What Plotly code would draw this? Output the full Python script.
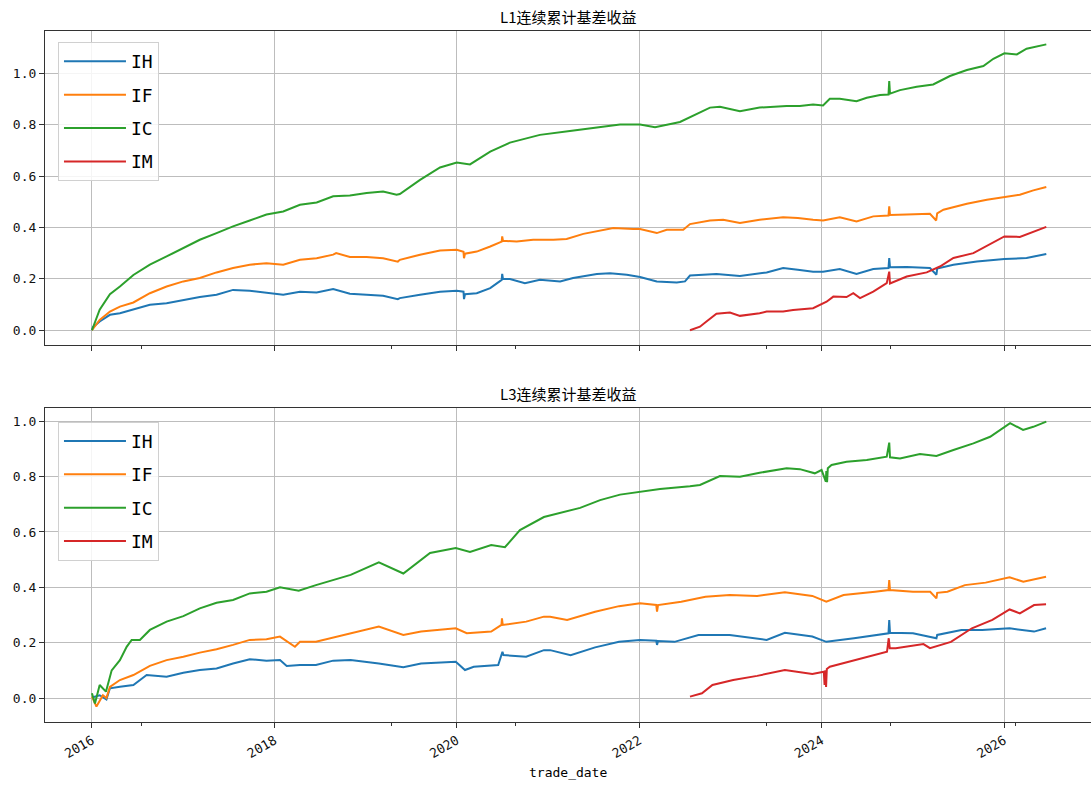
import plotly.graph_objects as go

# ---------------- series data ----------------
series_names = ["IH", "IF", "IC", "IM"]
series_colors = ["#1f77b4", "#ff7f0e", "#2ca02c", "#d62728"]

# L1 continuous cumulative basis return
l1_ih_dates = ["2016-01-01", "2016-01-05", "2016-02-01", "2016-03-13", "2016-04-22", "2016-06-15", "2016-08-20",
               "2016-10-26", "2017-01-01", "2017-03-08", "2017-05-14", "2017-07-19", "2017-09-24", "2017-11-30",
               "2018-02-05", "2018-04-13", "2018-06-19", "2018-08-24", "2018-10-30", "2019-01-05", "2019-03-12",
               "2019-05-10", "2019-05-18", "2019-08-07", "2019-10-26", "2020-01-01", "2020-01-28", "2020-01-30",
               "2020-02-03", "2020-03-21", "2020-05-14", "2020-06-29", "2020-07-01", "2020-07-04", "2020-08-01",
               "2020-09-30", "2020-11-29", "2021-02-18", "2021-04-11", "2021-07-15", "2021-09-06", "2021-11-12",
               "2022-01-04", "2022-03-12", "2022-05-31", "2022-07-03", "2022-07-23", "2022-11-06", "2023-02-08",
               "2023-05-26", "2023-07-31", "2023-09-28", "2023-11-28", "2024-01-07", "2024-03-14", "2024-05-20",
               "2024-07-26", "2024-09-25", "2024-09-28", "2024-10-01", "2024-12-07", "2025-03-10", "2025-04-05",
               "2025-04-08", "2025-06-12", "2025-09-14", "2026-01-02", "2026-04-01", "2026-06-19"]
l1_ih = [0.0, 0.012, 0.034, 0.06, 0.066, 0.082, 0.099,
         0.105, 0.118, 0.129, 0.138, 0.157, 0.154, 0.147,
         0.138, 0.15, 0.147, 0.16, 0.142, 0.138, 0.134,
         0.121, 0.125, 0.138, 0.15, 0.154, 0.15, 0.121,
         0.14, 0.144, 0.164, 0.196, 0.219, 0.2, 0.199,
         0.183, 0.196, 0.19, 0.203, 0.219, 0.222, 0.216,
         0.207, 0.19, 0.186, 0.19, 0.213, 0.219, 0.211,
         0.225, 0.242, 0.235, 0.228, 0.228, 0.238, 0.219,
         0.238, 0.242, 0.281, 0.245, 0.246, 0.242, 0.216,
         0.24, 0.255, 0.267, 0.277, 0.281, 0.297]

l1_if_dates = ["2016-01-01", "2016-02-01", "2016-03-13", "2016-04-22", "2016-06-15", "2016-08-20", "2016-10-26",
               "2017-01-01", "2017-03-08", "2017-05-14", "2017-07-19", "2017-09-24", "2017-11-30", "2018-02-05",
               "2018-04-13", "2018-06-19", "2018-08-24", "2018-09-05", "2018-10-30", "2019-01-05", "2019-03-12",
               "2019-05-10", "2019-05-18", "2019-08-07", "2019-10-26", "2020-01-01", "2020-01-28", "2020-01-30",
               "2020-02-03", "2020-03-21", "2020-05-14", "2020-06-29", "2020-07-01", "2020-07-04", "2020-08-28",
               "2020-11-02", "2021-01-22", "2021-03-16", "2021-05-22", "2021-07-28", "2021-09-19", "2021-12-08",
               "2022-01-04", "2022-03-12", "2022-04-21", "2022-06-26", "2022-07-23", "2022-10-11", "2022-12-03",
               "2023-02-08", "2023-04-28", "2023-07-31", "2023-09-28", "2023-11-28", "2024-01-07", "2024-03-14",
               "2024-05-20", "2024-07-26", "2024-09-25", "2024-09-28", "2024-10-01", "2024-12-07", "2025-03-10",
               "2025-04-04", "2025-04-08", "2025-05-03", "2025-08-05", "2025-10-24", "2026-01-02", "2026-03-05",
               "2026-04-28", "2026-06-19"]
l1_if = [0.0, 0.04, 0.073, 0.092, 0.108, 0.144, 0.17,
         0.19, 0.203, 0.225, 0.242, 0.255, 0.261, 0.255,
         0.274, 0.28, 0.294, 0.3, 0.285, 0.285, 0.28,
         0.267, 0.274, 0.294, 0.31, 0.313, 0.305, 0.28,
         0.298, 0.306, 0.326, 0.345, 0.365, 0.348, 0.345,
         0.352, 0.352, 0.355, 0.375, 0.388, 0.398, 0.394,
         0.394, 0.378, 0.391, 0.391, 0.413, 0.427, 0.43,
         0.417, 0.43, 0.44, 0.437, 0.43, 0.427, 0.439,
         0.423, 0.443, 0.446, 0.482, 0.448, 0.45, 0.453,
         0.427, 0.455, 0.469, 0.492, 0.508, 0.519, 0.527,
         0.544, 0.557]

l1_ic_dates = ["2016-01-01", "2016-01-05", "2016-02-01", "2016-03-13", "2016-04-22", "2016-06-15", "2016-08-20",
               "2016-10-26", "2017-01-01", "2017-03-08", "2017-05-14", "2017-07-19", "2017-09-24", "2017-11-30",
               "2018-02-05", "2018-04-13", "2018-06-19", "2018-08-24", "2018-10-30", "2019-01-05", "2019-03-12",
               "2019-05-05", "2019-05-18", "2019-08-07", "2019-10-26", "2020-01-01", "2020-02-23", "2020-05-14",
               "2020-08-01", "2020-11-29", "2021-03-29", "2021-07-28", "2021-10-16", "2022-01-04", "2022-03-05",
               "2022-06-13", "2022-09-01", "2022-10-11", "2022-11-20", "2023-02-08", "2023-04-28", "2023-08-14",
               "2023-10-06", "2023-11-28", "2024-01-07", "2024-02-03", "2024-03-14", "2024-05-20", "2024-06-30",
               "2024-08-22", "2024-09-25", "2024-09-28", "2024-10-01", "2024-11-10", "2025-01-16", "2025-03-23",
               "2025-05-29", "2025-08-05", "2025-10-10", "2025-11-19", "2026-01-02", "2026-02-21", "2026-04-01",
               "2026-05-11", "2026-06-19"]
l1_ic = [0.0, 0.01, 0.08, 0.14, 0.17, 0.215, 0.255,
         0.287, 0.32, 0.352, 0.378, 0.404, 0.427, 0.45,
         0.462, 0.488, 0.497, 0.521, 0.524, 0.534, 0.54,
         0.527, 0.53, 0.585, 0.633, 0.652, 0.645, 0.695,
         0.73, 0.76, 0.775, 0.79, 0.8, 0.8, 0.79,
         0.81, 0.846, 0.866, 0.869, 0.852, 0.866, 0.872,
         0.872, 0.878, 0.874, 0.9, 0.9, 0.891, 0.904,
         0.915, 0.917, 0.969, 0.92, 0.934, 0.947, 0.956,
         0.989, 1.012, 1.028, 1.056, 1.077, 1.073, 1.095,
         1.103, 1.112]

l1_im_dates = ["2022-07-23", "2022-09-01", "2022-09-27", "2022-11-06", "2022-12-30", "2023-02-08", "2023-04-28",
               "2023-05-26", "2023-07-31", "2023-09-09", "2023-11-28", "2024-01-21", "2024-02-17", "2024-04-10",
               "2024-05-07", "2024-06-03", "2024-07-26", "2024-09-18", "2024-09-28", "2024-10-01", "2024-12-07",
               "2025-02-25", "2025-04-19", "2025-06-12", "2025-08-31", "2025-10-24", "2026-01-02", "2026-03-05",
               "2026-04-28", "2026-06-19"]
l1_im = [0.0, 0.014, 0.034, 0.064, 0.069, 0.056, 0.066,
         0.073, 0.073, 0.079, 0.086, 0.111, 0.131, 0.129,
         0.144, 0.125, 0.15, 0.183, 0.228, 0.182, 0.209,
         0.225, 0.248, 0.281, 0.3, 0.329, 0.365, 0.363,
         0.384, 0.402]

# L3 continuous cumulative basis return
l3_ih_dates = ["2016-01-01", "2016-02-01", "2016-02-28", "2016-03-13", "2016-04-22", "2016-06-15", "2016-08-07",
               "2016-10-26", "2017-01-01", "2017-03-08", "2017-05-14", "2017-07-19", "2017-09-24", "2017-11-30",
               "2018-01-23", "2018-02-19", "2018-04-13", "2018-06-16", "2018-08-24", "2018-11-02", "2019-02-23",
               "2019-06-01", "2019-08-11", "2019-12-28", "2020-02-03", "2020-03-09", "2020-06-15", "2020-07-02",
               "2020-07-06", "2020-10-05", "2020-12-15", "2021-01-09", "2021-04-01", "2021-07-08", "2021-10-12",
               "2022-01-04", "2022-03-10", "2022-03-13", "2022-03-17", "2022-05-22", "2022-08-26", "2022-12-29",
               "2023-05-26", "2023-08-07", "2023-11-25", "2024-01-20", "2024-05-10", "2024-08-02", "2024-09-25",
               "2024-09-28", "2024-10-01", "2025-01-01", "2025-04-05", "2025-04-08", "2025-07-14", "2025-10-05",
               "2026-01-23", "2026-05-01", "2026-06-18"]
l3_ih = [0.002, 0.01, -0.005, 0.035, 0.041, 0.047, 0.083,
         0.077, 0.091, 0.101, 0.107, 0.125, 0.14, 0.135,
         0.137, 0.116, 0.119, 0.119, 0.135, 0.137, 0.125,
         0.111, 0.125, 0.131, 0.101, 0.113, 0.119, 0.167,
         0.155, 0.149, 0.173, 0.173, 0.155, 0.183, 0.203,
         0.21, 0.207, 0.192, 0.206, 0.203, 0.228, 0.228,
         0.21, 0.236, 0.222, 0.203, 0.216, 0.228, 0.234,
         0.282, 0.236, 0.234, 0.216, 0.228, 0.246, 0.246,
         0.252, 0.24, 0.252]

l3_if_dates = ["2016-01-01", "2016-01-19", "2016-02-14", "2016-02-28", "2016-03-13", "2016-04-22", "2016-06-15",
               "2016-08-20", "2016-10-26", "2017-01-01", "2017-03-08", "2017-05-14", "2017-07-19", "2017-09-24",
               "2017-11-30", "2018-01-23", "2018-03-24", "2018-04-13", "2018-06-16", "2018-11-02", "2019-02-23",
               "2019-06-01", "2019-08-11", "2019-12-28", "2020-02-10", "2020-05-18", "2020-06-28", "2020-06-30",
               "2020-07-03", "2020-10-05", "2020-12-15", "2021-01-09", "2021-03-18", "2021-07-08", "2021-10-12",
               "2022-01-04", "2022-03-10", "2022-03-13", "2022-03-17", "2022-06-18", "2022-09-23", "2022-12-29",
               "2023-04-18", "2023-08-07", "2023-11-25", "2024-01-20", "2024-03-29", "2024-08-02", "2024-09-25",
               "2024-09-28", "2024-10-01", "2025-01-01", "2025-03-11", "2025-04-05", "2025-04-08", "2025-05-19",
               "2025-07-28", "2025-10-19", "2026-01-23", "2026-03-19", "2026-06-18"]
l3_if = [0.005, -0.031, 0.01, 0.0, 0.04, 0.065, 0.083,
         0.116, 0.137, 0.149, 0.164, 0.176, 0.192, 0.21,
         0.212, 0.222, 0.185, 0.203, 0.203, 0.234, 0.258,
         0.228, 0.24, 0.252, 0.234, 0.24, 0.264, 0.288,
         0.264, 0.276, 0.294, 0.294, 0.282, 0.312, 0.332,
         0.342, 0.336, 0.312, 0.336, 0.348, 0.366, 0.372,
         0.369, 0.382, 0.369, 0.348, 0.372, 0.384, 0.39,
         0.426, 0.39, 0.384, 0.384, 0.36, 0.38, 0.384,
         0.408, 0.417, 0.436, 0.42, 0.438]

l3_ic_dates = ["2016-01-01", "2016-01-13", "2016-02-01", "2016-02-26", "2016-03-20", "2016-04-22", "2016-05-19",
               "2016-06-08", "2016-07-11", "2016-08-20", "2016-10-26", "2017-01-01", "2017-03-08", "2017-05-14",
               "2017-07-19", "2017-09-24", "2017-11-30", "2018-01-23", "2018-04-08", "2018-06-16", "2018-11-02",
               "2019-02-23", "2019-06-01", "2019-06-29", "2019-09-16", "2019-12-28", "2020-02-23", "2020-05-18",
               "2020-07-12", "2020-09-10", "2020-12-15", "2021-05-09", "2021-07-28", "2021-10-16", "2022-01-04",
               "2022-03-25", "2022-07-23", "2022-09-01", "2022-11-20", "2023-02-08", "2023-04-28", "2023-08-14",
               "2023-10-06", "2023-12-05", "2024-01-01", "2024-01-18", "2024-01-20", "2024-01-23", "2024-01-26",
               "2024-02-10", "2024-04-10", "2024-06-30", "2024-09-18", "2024-09-28", "2024-10-01", "2024-11-10",
               "2025-01-29", "2025-04-05", "2025-06-12", "2025-08-31", "2025-11-06", "2026-01-02", "2026-01-25",
               "2026-03-18", "2026-04-28", "2026-06-19"]
l3_ic = [0.017, -0.02, 0.047, 0.023, 0.1, 0.137, 0.185,
         0.21, 0.21, 0.246, 0.276, 0.296, 0.324, 0.344,
         0.354, 0.378, 0.384, 0.4, 0.388, 0.408, 0.445,
         0.49, 0.45, 0.47, 0.524, 0.542, 0.528, 0.553,
         0.545, 0.607, 0.654, 0.687, 0.715, 0.735, 0.744,
         0.755, 0.765, 0.77, 0.802, 0.8, 0.814, 0.83,
         0.827, 0.812, 0.824, 0.782, 0.82, 0.78, 0.83,
         0.842, 0.854, 0.86, 0.872, 0.923, 0.87, 0.866,
         0.882, 0.875, 0.896, 0.92, 0.944, 0.978, 0.993,
         0.969, 0.98, 0.999]

l3_im_dates = ["2022-07-23", "2022-09-09", "2022-10-21", "2023-01-12", "2023-04-18", "2023-08-07", "2023-11-25",
               "2024-01-10", "2024-01-13", "2024-01-16", "2024-01-19", "2024-01-22", "2024-02-03", "2024-05-10",
               "2024-08-02", "2024-09-19", "2024-09-26", "2024-09-30", "2024-10-24", "2025-02-12", "2025-03-10",
               "2025-06-02", "2025-08-25", "2025-11-15", "2026-01-23", "2026-03-05", "2026-05-01", "2026-06-18"]
l3_im = [0.005, 0.017, 0.047, 0.065, 0.08, 0.101, 0.087,
         0.095, 0.047, 0.1, 0.04, 0.105, 0.113, 0.137,
         0.155, 0.167, 0.216, 0.18, 0.18, 0.195, 0.18,
         0.203, 0.252, 0.282, 0.32, 0.306, 0.336, 0.339]

panel_titles = ["L1连续累计基差收益", "L3连续累计基差收益"]
x_label = "trade_date"

year_ticks = ["2016-01-01", "2018-01-01", "2020-01-01", "2022-01-01", "2024-01-01", "2026-01-01"]
year_labels = ["2016", "2018", "2020", "2022", "2024", "2026"]
minor_ticks = ["2016-07-19", "2019-04-16", "2020-08-25", "2023-05-27", "2024-10-05", "2026-02-17"]
y_ticks = [0.0, 0.2, 0.4, 0.6, 0.8, 1.0]
y_tick_labels = ["0.0", "0.2", "0.4", "0.6", "0.8", "1.0"]

# ---------------- figure ----------------
panels = [
    [(l1_ih_dates, l1_ih), (l1_if_dates, l1_if), (l1_ic_dates, l1_ic), (l1_im_dates, l1_im)],
    [(l3_ih_dates, l3_ih), (l3_if_dates, l3_if), (l3_ic_dates, l3_ic), (l3_im_dates, l3_im)],
]

fig = go.Figure()
for p, panel in enumerate(panels):
    xa = "x" if p == 0 else "x2"
    ya = "y" if p == 0 else "y2"
    lg = "legend" if p == 0 else "legend2"
    for i, (d, v) in enumerate(panel):
        fig.add_trace(go.Scatter(
            x=d, y=v, mode="lines", name=series_names[i],
            line=dict(color=series_colors[i], width=2),
            xaxis=xa, yaxis=ya, legend=lg, legendgroup=f"{p}-{i}",
        ))

tick_font = dict(family="DejaVu Sans Mono", size=13, color="#111111")
grid_col = "#bdbdbd"
spine_col = "#333333"

x_common = dict(
    type="date", range=["2015-06-27", "2026-12-15"],
    tickmode="array", tickvals=year_ticks, ticktext=year_labels,
    ticks="outside", ticklen=5, tickwidth=1, tickcolor=spine_col,
    showgrid=True, gridcolor=grid_col, gridwidth=1,
    showline=True, linecolor=spine_col, linewidth=1.2, mirror=True,
    zeroline=False, tickfont=tick_font,
    minor=dict(tickmode="array", tickvals=minor_ticks, ticks="outside",
               ticklen=3, tickwidth=1, tickcolor=spine_col, showgrid=False),
)
y_common = dict(
    tickmode="array", tickvals=y_ticks, ticktext=y_tick_labels,
    ticks="outside", ticklen=5, tickwidth=1, tickcolor=spine_col,
    showgrid=True, gridcolor=grid_col, gridwidth=1,
    showline=True, linecolor=spine_col, linewidth=1.2, mirror=False,
    zeroline=False, tickfont=tick_font,
)

top_dom = [0.5456, 1.0]
bot_dom = [0.0, 0.4544]

legend_common = dict(
    font=dict(family="DejaVu Sans Mono", size=18, color="#000000"),
    bgcolor="rgba(255,255,255,0.85)", bordercolor="#d0d0d0", borderwidth=1,
    xanchor="left", yanchor="top", tracegroupgap=7, itemwidth=62,
)

fig.update_layout(
    width=1092, height=792,
    margin=dict(l=45, r=1, t=31, b=70),
    paper_bgcolor="white", plot_bgcolor="white",
    font=dict(family="Noto Sans CJK SC", color="#000000"),
    xaxis=dict(x_common, domain=[0, 1], anchor="y", showticklabels=False),
    yaxis=dict(y_common, domain=top_dom, anchor="x", range=[-0.0573, 1.164]),
    xaxis2=dict(x_common, domain=[0, 1], anchor="y2", matches="x", tickangle=-30),
    yaxis2=dict(y_common, domain=bot_dom, anchor="x2", range=[-0.0867, 1.048]),
    legend=dict(legend_common, x=0.0124, y=0.984),
    legend2=dict(legend_common, x=0.0124, y=0.4346),
    annotations=[
        dict(text=panel_titles[0], x=0.5, y=1.0203, xref="paper", yref="paper",
             xanchor="center", yanchor="middle", showarrow=False,
             font=dict(family="Noto Sans CJK SC", size=15, color="#000000")),
        dict(text=panel_titles[1], x=0.5, y=0.4761, xref="paper", yref="paper",
             xanchor="center", yanchor="middle", showarrow=False,
             font=dict(family="Noto Sans CJK SC", size=15, color="#000000")),
        dict(text=x_label, x=0.5, y=-0.0738, xref="paper", yref="paper",
             xanchor="center", yanchor="middle", showarrow=False,
             font=dict(family="DejaVu Sans Mono", size=13, color="#000000")),
    ],
)

fig.write_html("out.html")
